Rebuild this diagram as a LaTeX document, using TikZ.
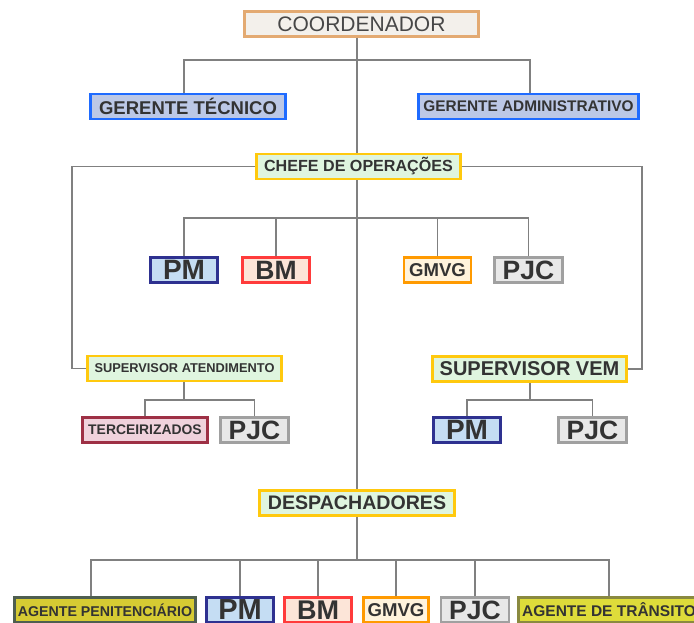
\documentclass[tikz,border=0pt]{standalone}
\usepackage{fontspec}
\setmainfont{Liberation Sans}
\definecolor{txtgray}{HTML}{333333}
\definecolor{linkgray}{HTML}{808080}
\definecolor{coordfill}{HTML}{F3F0EB}
\definecolor{coorddraw}{HTML}{E3AA72}
\definecolor{gerfill}{HTML}{BCC8E6}
\definecolor{gerdraw}{HTML}{1F6BFF}
\definecolor{opfill}{HTML}{DFF5DF}
\definecolor{opdraw}{HTML}{FFC90E}
\definecolor{pmfill}{HTML}{C5DDF3}
\definecolor{pmdraw}{HTML}{2E3190}
\definecolor{bmfill}{HTML}{FCE5D8}
\definecolor{bmdraw}{HTML}{FF3B3B}
\definecolor{gmfill}{HTML}{FFF3DC}
\definecolor{gmdraw}{HTML}{FF9A00}
\definecolor{pjfill}{HTML}{E8E8E8}
\definecolor{pjdraw}{HTML}{A0A0A0}
\definecolor{tcfill}{HTML}{F0D2DC}
\definecolor{tcdraw}{HTML}{9E3045}
\definecolor{apfill}{HTML}{D6CB33}
\definecolor{apdraw}{HTML}{4E5E50}
\definecolor{atfill}{HTML}{DEDC3A}
\definecolor{atdraw}{HTML}{8A8A40}
\newcommand{\fsz}[1]{\bfseries\fontsize{#1}{#1}\selectfont}

\begin{document}
\begin{tikzpicture}[x=1pt, y=-1pt,
    box/.style={rectangle, line width=2.5pt, inner sep=0pt, minimum height=25pt, text=txtgray},
    ger/.style={box, draw=gerdraw, fill=gerfill},
    op/.style={box, draw=opdraw, fill=opfill},
    pm/.style={box, draw=pmdraw, fill=pmfill, minimum width=67pt, font=\fsz{28}},
    bm/.style={box, draw=bmdraw, fill=bmfill, minimum width=67pt, font=\fsz{26.5}},
    gm/.style={box, draw=gmdraw, fill=gmfill, minimum width=67pt, font=\fsz{18.6}},
    pj/.style={box, draw=pjdraw, fill=pjfill, minimum width=68pt, font=\fsz{26.5}},
    link/.style={draw=linkgray, line width=1.1pt}]
    \useasboundingbox (0,0) rectangle (694,623);

    % Top
    \node[box, draw=coorddraw, fill=coordfill, minimum width=234pt, font=\fontsize{21}{21}\selectfont, text=txtgray!90] (coord) at (361.5,24) {COORDENADOR};
    \node[ger, minimum width=195pt, font=\fsz{18.5}] (gtec) at (188,106.5) {GERENTE TÉCNICO};
    \node[ger, minimum width=220pt, font=\fsz{15.4}] (gadm) at (528.5,106.5) {GERENTE ADMINISTRATIVO};
    \node[op, minimum width=204pt, font=\fsz{16.1}] (chefe) at (358.5,166.5) {CHEFE DE OPERAÇÕES};

    % Operations row
    \node[pm] (pm1) at (184,270) {PM};
    \node[bm] (bm1) at (276,270) {BM};
    \node[gm] (gmvg1) at (437.5,270) {GMVG};
    \node[pj] (pjc1) at (528.5,270) {PJC};

    % Supervisors
    \node[op, minimum width=194pt, font=\fsz{12.8}] (supA) at (184.5,368.5) {SUPERVISOR ATENDIMENTO};
    \node[op, minimum width=194pt, font=\fsz{20}] (supV) at (529.5,369) {SUPERVISOR VEM};
    \node[box, draw=tcdraw, fill=tcfill, minimum width=125pt, font=\fsz{13.9}] (terc) at (145,430) {TERCEIRIZADOS};
    \node[pj] (pjc2) at (254.5,430) {PJC};
    \node[pm] (pm2) at (467,430) {PM};
    \node[pj] (pjc3) at (592.5,430) {PJC};

    % Dispatch
    \node[op, minimum width=195pt, font=\fsz{19.6}] (desp) at (357,503) {DESPACHADORES};
    \node[box, draw=apdraw, fill=apfill, minimum width=181pt, font=\fsz{14.2}] (agp) at (105,610) {AGENTE PENITENCIÁRIO};
    \node[pm, font=\fsz{29}] (pm3) at (240,610) {PM};
    \node[bm, font=\fsz{27}] (bm3) at (318,610) {BM};
    \node[gm, minimum width=65pt] (gmvg3) at (396,610) {GMVG};
    \node[pj] (pjc4) at (475,610) {PJC};
    \node[box, draw=atdraw, fill=atfill, minimum width=181pt, font=\fsz{15.5}] (agt) at (609,610) {AGENTE DE TRÂNSITO};

    % Junctions
    \coordinate (jtop) at (357,60);
    \coordinate (jops) at (357,218);
    \coordinate (jlft) at (72,368.5);
    \coordinate (jrgt) at (642,369);
    \coordinate (jsa) at (184,400);
    \coordinate (jsv) at (530,400);
    \coordinate (jbot) at (357,560);

    % Links
    \draw[link] (coord.south -| jtop) -- (chefe.north -| jtop);
    \draw[link] (chefe.south -| jtop) -- (desp.north);
    \draw[link] (desp.south) -- (jbot);
    \draw[link] (gtec.north -| 184,0) |- (jtop) -| (gadm.north -| 530,0);
    \draw[link] (chefe.west) -| (jlft) -- (supA.west);
    \draw[link] (chefe.east) -| (jrgt) -- (supV.east);
    \draw[link] (pm1.north) |- (jops) -| (pjc1.north);
    \draw[link] (bm1.north) -- (bm1.north |- jops);
    \draw[link] (gmvg1.north) -- (gmvg1.north |- jops);
    \draw[link] (supA.south -| jsa) -- (jsa);
    \draw[link] (terc.north) |- (jsa) -| (pjc2.north);
    \draw[link] (supV.south -| jsv) -- (jsv);
    \draw[link] (pm2.north) |- (jsv) -| (pjc3.north);
    \draw[link] ([xshift=-14pt]agp.north) |- (jbot) -| (agt.north);
    \draw[link] (pm3.north) -- (pm3.north |- jbot);
    \draw[link] (bm3.north) -- (bm3.north |- jbot);
    \draw[link] (gmvg3.north) -- (gmvg3.north |- jbot);
    \draw[link] (pjc4.north) -- (pjc4.north |- jbot);
\end{tikzpicture}
\end{document}
